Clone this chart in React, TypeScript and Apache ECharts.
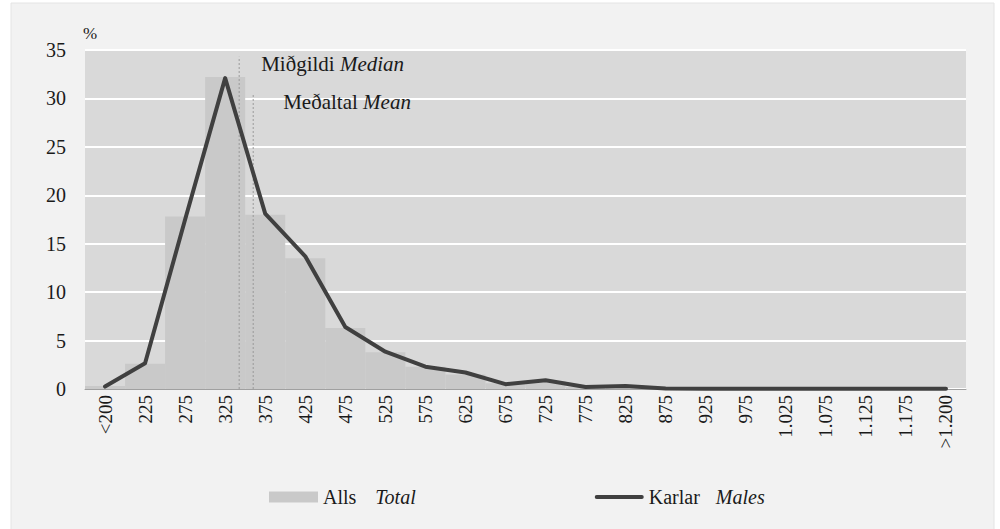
import React, { useEffect, useRef } from "react";
import * as echarts from "echarts";

const categories = ["<200", "225", "275", "325", "375", "425", "475", "525", "575", "625", "675", "725", "775", "825", "875", "925", "975", "1.025", "1.075", "1.125", "1.175", ">1.200"];
const totalValues = [0.3, 2.6, 17.8, 32.2, 18.0, 13.5, 6.3, 3.8, 2.3, 1.5, 0.6, 0.8, 0.2, 0.3, 0.1, 0.05, 0, 0, 0, 0, 0, 0];
const malesValues = [0.25, 2.65, 17.5, 32.1, 18.1, 13.7, 6.4, 3.85, 2.3, 1.7, 0.5, 0.9, 0.2, 0.3, 0.05, 0.03, 0.03, 0.03, 0.03, 0.03, 0.03, 0.03];
const yTicks = [0, 5, 10, 15, 20, 25, 30, 35];
// position along the category scale (0 = left edge of "<200", 22 = right edge of ">1.200")
const medianPos = 3.85;
const medianTop = 34.3;
const meanPos = 4.2;
const meanTop = 30.5;

const FONT = "Times New Roman, Liberation Serif, serif";
const TXT = "#1a1a1a";
const LINE_ICON = "path://M2,0 L50,0 A2,2 0 0 1 50,4 L2,4 A2,2 0 0 1 2,0 Z";

export default function App() {
  const ref = useRef<HTMLDivElement>(null);
  useEffect(() => {
    const chart = echarts.init(ref.current!, null, { renderer: "svg" });
    const bgRect = {
      type: "rect",
      z: -10,
      silent: true,
      shape: { x: 11, y: 3, width: 983, height: 540 },
      style: { fill: "#f2f2f2", stroke: "#e4e4e4", lineWidth: 1 },
    };
    const option: any = {
      animation: false,
      backgroundColor: "#ffffff",
      textStyle: { fontFamily: FONT },
      graphic: [bgRect],
      grid: {
        left: 85,
        top: 50,
        right: 34,
        bottom: 140,
        show: true,
        backgroundColor: "#d9d9d9",
        borderWidth: 0,
        containLabel: false,
      },
      legend: {
        left: 264,
        top: 482,
        itemWidth: 49,
        itemHeight: 11,
        itemGap: 179,
        data: [
          { name: "Alls", icon: "rect" },
          { name: "Karlar", icon: LINE_ICON },
        ],
        formatter: (name: string) =>
          name === "Alls" ? "{a|Alls}{b|Total}" : "{a|Karlar}{c|Males}",
        textStyle: {
          fontFamily: FONT,
          fontSize: 20,
          color: TXT,
          rich: {
            a: { fontFamily: FONT, fontSize: 20, color: TXT },
            b: { fontFamily: FONT, fontSize: 20, color: TXT, fontStyle: "italic", padding: [0, 0, 0, 19] },
            c: { fontFamily: FONT, fontSize: 20, color: TXT, fontStyle: "italic", padding: [0, 0, 0, 16] },
          },
        },
      },
      xAxis: [
        {
          type: "category",
          data: categories,
          boundaryGap: true,
          axisTick: { show: false },
          axisLine: { lineStyle: { color: "#a0a0a0", width: 1 } },
          axisLabel: {
            rotate: 90,
            interval: 0,
            margin: 6,
            fontFamily: FONT,
            fontSize: 19,
            color: TXT,
          },
          splitLine: { show: false },
        },
        {
          type: "value",
          min: 0,
          max: 22,
          show: false,
          splitLine: { show: false },
        },
      ],
      yAxis: {
        type: "value",
        min: 0,
        max: 35,
        interval: 5,
        name: "%",
        nameLocation: "end",
        nameGap: 17,
        nameTextStyle: { fontFamily: FONT, fontSize: 17, color: TXT, align: "left", verticalAlign: "middle", padding: [0, 0, 0, -2] },
        axisLine: { show: false },
        axisTick: { show: false },
        axisLabel: {
          margin: 19,
          fontFamily: FONT,
          fontSize: 20,
          color: TXT,
          formatter: (v: number) => (yTicks.includes(v) ? String(v) : ""),
        },
        splitLine: { lineStyle: { color: "#ffffff", width: 2 } },
      },
      series: [
        {
          name: "Alls",
          type: "bar",
          data: totalValues,
          barCategoryGap: "0%",
          barGap: "0%",
          itemStyle: { color: "#c9c9c9" },
          z: 2,
        },
        {
          name: "Median",
          type: "line",
          xAxisIndex: 1,
          data: [[medianPos, 0], [medianPos, medianTop]],
          showSymbol: false,
          symbol: "none",
          lineStyle: { color: "#9a9a9a", width: 1, type: [2, 2] },
          z: 3,
          silent: true,
        },
        {
          name: "Mean",
          type: "line",
          xAxisIndex: 1,
          data: [[meanPos, 0], [meanPos, meanTop]],
          showSymbol: false,
          symbol: "none",
          lineStyle: { color: "#9a9a9a", width: 1, type: [2, 2] },
          z: 3,
          silent: true,
        },
        {
          name: "Karlar",
          type: "line",
          data: malesValues,
          symbol: "none",
          showSymbol: false,
          lineStyle: { color: "#404040", width: 4, cap: "round", join: "round" },
          itemStyle: { color: "#404040" },
          z: 5,
        },
      ],
    };
    chart.setOption(option);

    const med = chart.convertToPixel({ xAxisIndex: 1, yAxisIndex: 0 }, [medianPos, medianTop]) as number[];
    const mean = chart.convertToPixel({ xAxisIndex: 1, yAxisIndex: 0 }, [meanPos, meanTop]) as number[];
    const rich = {
      a: { fontFamily: FONT, fontSize: 21, fill: TXT },
      b: { fontFamily: FONT, fontSize: 21, fill: TXT, fontStyle: "italic" },
    };
    chart.setOption({
      graphic: [
        bgRect,
        {
          type: "text",
          x: med[0] + 22,
          y: med[1] + 7,
          z: 10,
          style: {
            text: "{a|Miðgildi }{b|Median}",
            rich,
            verticalAlign: "middle",
            align: "left",
            fill: TXT,
            fontFamily: FONT,
            fontSize: 21,
          },
        },
        {
          type: "text",
          x: mean[0] + 30,
          y: mean[1] + 8,
          z: 10,
          style: {
            text: "{a|Meðaltal }{b|Mean}",
            rich,
            verticalAlign: "middle",
            align: "left",
            fill: TXT,
            fontFamily: FONT,
            fontSize: 21,
          },
        },
      ],
    });
    return () => chart.dispose();
  }, []);
  return (
    <div
      ref={ref}
      style={{ position: "fixed", left: 0, top: 0, width: 1000, height: 529 }}
    />
  );
}
